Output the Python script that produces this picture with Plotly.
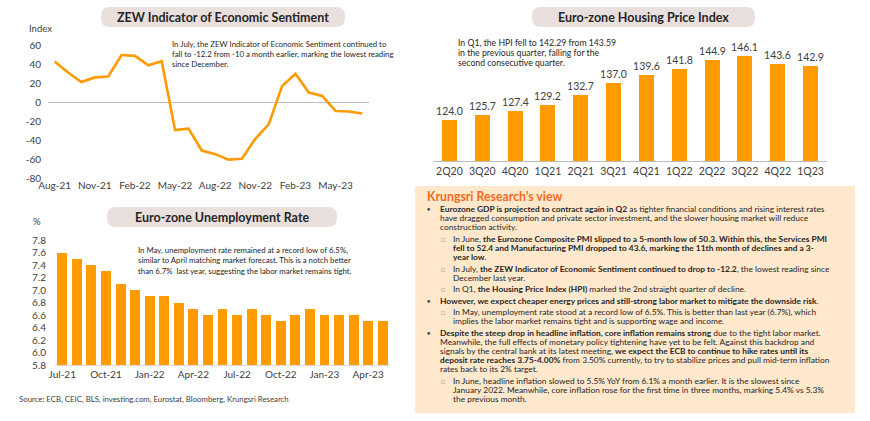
import plotly.graph_objects as go

W, H = 870, 421

# ---------------- data ----------------
zew_months = ["Aug-21", "Sep-21", "Oct-21", "Nov-21", "Dec-21", "Jan-22", "Feb-22", "Mar-22",
              "Apr-22", "May-22", "Jun-22", "Jul-22", "Aug-22", "Sep-22", "Oct-22", "Nov-22",
              "Dec-22", "Jan-23", "Feb-23", "Mar-23", "Apr-23", "May-23", "Jun-23", "Jul-23"]
zew_values = [42.7, 31.1, 21.0, 25.9, 26.8, 49.4, 48.6, 38.7, 43.0, -29.5, -28.0, -51.1,
              -54.9, -60.7, -59.7, -38.7, -23.6, 16.7, 29.7, 10.0, 6.4, -9.4, -10.0, -12.2]
zew_ticks = ["Aug-21", "Nov-21", "Feb-22", "May-22", "Aug-22", "Nov-22", "Feb-23", "May-23"]
zew_yticks = [-80, -60, -40, -20, 0, 20, 40, 60]
zew_yticktext = ["-80", "-60", "-40", "-20", "0", "20", "40", "60"]

hpi_quarters = ["2Q20", "3Q20", "4Q20", "1Q21", "2Q21", "3Q21", "4Q21", "1Q22",
                "2Q22", "3Q22", "4Q22", "1Q23"]
hpi_values = [124.0, 125.7, 127.4, 129.2, 132.7, 137.0, 139.6, 141.8, 144.9, 146.1, 143.6, 142.9]

unemp_months = ["Jul-21", "Aug-21", "Sep-21", "Oct-21", "Nov-21", "Dec-21", "Jan-22", "Feb-22",
                "Mar-22", "Apr-22", "May-22", "Jun-22", "Jul-22", "Aug-22", "Sep-22", "Oct-22",
                "Nov-22", "Dec-22", "Jan-23", "Feb-23", "Mar-23", "Apr-23", "May-23"]
unemp_values = [7.6, 7.5, 7.4, 7.3, 7.1, 7.0, 6.9, 6.9, 6.8, 6.7, 6.6, 6.7, 6.6, 6.7, 6.6,
                6.5, 6.6, 6.7, 6.6, 6.6, 6.6, 6.5, 6.5]
unemp_ticks = ["Jul-21", "Oct-21", "Jan-22", "Apr-22", "Jul-22", "Oct-22", "Jan-23", "Apr-23"]
unemp_yticks = [5.8, 6.0, 6.2, 6.4, 6.6, 6.8, 7.0, 7.2, 7.4, 7.6, 7.8]

zew_title = "ZEW Indicator of Economic Sentiment"
hpi_title = "Euro-zone Housing Price Index"
unemp_title = "Euro-zone Unemployment Rate"

zew_note = ["In July, the ZEW Indicator of Economic Sentiment continued to",
            "fall to -12.2 from -10 a month earlier, marking the lowest reading",
            "since December."]
hpi_note = ["In Q1, the HPI fell to 142.29 from 143.59",
            "in the previous quarter, falling for the",
            "second consecutive quarter."]
unemp_note = ["In May, unemployment rate remained at a record low of 6.5%,",
              "similar to April matching market forecast. This is a notch better",
              "than 6.7%  last year, suggesting the labor market remains tight."]
source = "Source: ECB, CEIC, BLS, investing.com, Eurostat, Bloomberg, Krungsri Research"

view_title = "Krungsri Research\u2019s view"
view_paragraphs = [
    (0, ["<b>Eurozone GDP is projected to contract again in Q2</b> as tighter financial conditions and rising interest rates",
         "have dragged consumption and private sector investment, and the slower housing market will reduce",
         "construction activity."]),
    (1, ["In June, <b>the Eurozone Composite PMI slipped to a 5-month low of 50.3. Within this, the Services PMI</b>",
         "<b>fell to 52.4 and Manufacturing PMI dropped to 43.6, marking the 11th month of declines and a 3-</b>",
         "<b>year low</b>."]),
    (1, ["In July, <b>the ZEW Indicator of Economic Sentiment continued to drop to -12.2</b>, the lowest reading since",
         "December last year."]),
    (1, ["In Q1, <b>the Housing Price Index (HPI)</b> marked the 2nd straight quarter of decline."]),
    (0, ["<b>However, we expect cheaper energy prices and still-strong labor market to mitigate the downside risk</b>."]),
    (1, ["In May, unemployment rate stood at a record low of 6.5%. This is better than last year (6.7%), which",
         "implies the labor market remains tight and is supporting wage and income."]),
    (0, ["<b>Despite the steep drop in headline inflation, core inflation remains strong</b> due to the tight labor market.",
         "Meanwhile, the full effects of monetary policy tightening have yet to be felt. Against this backdrop and",
         "signals by the central bank at its latest meeting, <b>we expect the ECB to continue to hike rates until its</b>",
         "<b>deposit rate reaches 3.75-4.00%</b> from 3.50% currently, to try to stabilize prices and pull mid-term inflation",
         "rates back to its 2% target."]),
    (1, ["In June, headline inflation slowed to 5.5% YoY from 6.1% a month earlier. It is the slowest since",
         "January 2022. Meanwhile, core inflation rose for the first time in three months, marking 5.4% vs 5.3%",
         "the previous month."]),
]

# ---------------- style ----------------
ORANGE = "#FF9A00"
PILL = "#E9DFDD"
BOX = "#FFE8CC"
TXT = "#262626"
TICK = "#404040"
FONT = "Lato, 'Open Sans', sans-serif"


def fx(x):
    return x / W


def fy(y):
    return 1 - y / H


fig = go.Figure()

fig.add_trace(go.Scatter(x=zew_months, y=zew_values, mode="lines",
                         line=dict(color=ORANGE, width=2.6), xaxis="x", yaxis="y",
                         hoverinfo="x+y"))
fig.add_trace(go.Bar(x=hpi_quarters, y=hpi_values, marker=dict(color=ORANGE, line=dict(width=0)),
                     width=0.46, text=[f"{v:.1f}" for v in hpi_values], textposition="outside",
                     constraintext="none",
                     textfont=dict(size=10.5, color=TICK, family=FONT), cliponaxis=False,
                     xaxis="x2", yaxis="y2"))
fig.add_trace(go.Bar(x=unemp_months, y=unemp_values, marker=dict(color=ORANGE, line=dict(width=0)),
                     width=0.68, xaxis="x3", yaxis="y3"))

tickfont = dict(size=10, color=TICK, family=FONT)

fig.update_layout(
    template="none",
    width=W, height=H, margin=dict(l=0, r=0, t=0, b=0, pad=0, autoexpand=False),
    paper_bgcolor="white", plot_bgcolor="rgba(0,0,0,0)",
    showlegend=False, bargap=0,
    font=dict(family=FONT, color=TXT),
    xaxis=dict(domain=[fx(48), fx(369)], type="category", range=[-0.5, 23.5],
               tickvals=zew_ticks, ticktext=zew_ticks, showgrid=False, showline=False,
               zeroline=False, automargin=False,
               ticks="", tickfont=tickfont, anchor="y"),
    yaxis=dict(domain=[fy(178), fy(45)], range=[-80, 60], tickvals=zew_yticks,
               ticktext=zew_yticktext, showgrid=False,
               zeroline=True, zerolinecolor="#BFBFBF", zerolinewidth=1, showline=False,
               automargin=False,
               ticks="", tickfont=tickfont, anchor="x", ticklabelstandoff=6),
    xaxis2=dict(domain=[fx(433), fx(827)], type="category", range=[-0.5, 11.5],
                showgrid=False, showline=True, linecolor="#BFBFBF", linewidth=1,
                zeroline=False, automargin=False,
                ticks="", tickfont=dict(size=10.5, color=TICK, family=FONT), anchor="y2"),
    yaxis2=dict(domain=[fy(161), fy(45)], range=[110, 150], visible=False, anchor="x2",
                automargin=False),
    xaxis3=dict(domain=[fx(55), fx(390)], type="category", range=[-0.5, 22.5],
                tickvals=unemp_ticks, ticktext=unemp_ticks, showgrid=False, showline=True,
                zeroline=False, automargin=False,
                linecolor="#D9D9D9", linewidth=1, ticks="", tickfont=tickfont, anchor="y3"),
    yaxis3=dict(domain=[fy(365), fy(240)], range=[5.8, 7.8], tickvals=unemp_yticks,
                tickformat=".1f", ticksuffix="%", showgrid=False, zeroline=False, showline=False,
                automargin=False,
                ticks="", tickfont=tickfont, anchor="x3", ticklabelstandoff=8),
)

shapes = []


def pill(x0, y0, x1, y1, r, color):
    path = (f"M {fx(x0 + r)},{fy(y0)} L {fx(x1 - r)},{fy(y0)} "
            f"Q {fx(x1)},{fy(y0)} {fx(x1)},{fy(y0 + r)} L {fx(x1)},{fy(y1 - r)} "
            f"Q {fx(x1)},{fy(y1)} {fx(x1 - r)},{fy(y1)} L {fx(x0 + r)},{fy(y1)} "
            f"Q {fx(x0)},{fy(y1)} {fx(x0)},{fy(y1 - r)} L {fx(x0)},{fy(y0 + r)} "
            f"Q {fx(x0)},{fy(y0)} {fx(x0 + r)},{fy(y0)} Z")
    return dict(type="path", xref="paper", yref="paper", path=path, fillcolor=color,
                line=dict(width=0), layer="below")


shapes.append(pill(101, 7, 345, 27, 9, PILL))
shapes.append(pill(532, 7, 755, 27, 9, PILL))
shapes.append(pill(107, 207, 337, 227, 9, PILL))
shapes.append(dict(type="rect", xref="paper", yref="paper", x0=fx(415), x1=fx(855),
                   y0=fy(413), y1=fy(186), fillcolor=BOX, line=dict(width=0), layer="below"))

ann = []


def text(x, y, s, size=9.5, color=TXT, anchor="left", bold=False):
    ann.append(dict(x=fx(x), y=fy(y), xref="paper", yref="paper", text=(f"<b>{s}</b>" if bold else s),
                    showarrow=False, xanchor=anchor, yanchor="middle",
                    font=dict(size=size, color=color, family=FONT)))


text(223, 17, zew_title, size=12.5, anchor="center", bold=True)
text(643.5, 17, hpi_title, size=12.5, anchor="center", bold=True)
text(222, 217, unemp_title, size=12.5, anchor="center", bold=True)

text(40, 28, "Index", size=9.5, color=TICK, anchor="center")
text(37, 221, "%", size=9.5, color=TICK, anchor="center")

for i, line in enumerate(zew_note):
    text(170, 44.3 + i * 10, line, size=7.8)
for i, line in enumerate(hpi_note):
    text(456, 42.3 + i * 10, line, size=8.7)
for i, line in enumerate(unemp_note):
    text(136, 250 + i * 10.3, line, size=7.8)

text(17, 399, source, size=7.8, color="#404040")

# Krungsri view box
text(425, 196.5, view_title, size=12.3, color="#F26B1F", bold=True)
y = 209.3
for level, lines in view_paragraphs:
    if level == 0:
        text(428, y, "\u25CF", size=5.5, color="#404040", anchor="center")
        x0 = 437.5
    else:
        text(443, y, "\u25A1", size=7, color="#A6A6A6", anchor="center")
        x0 = 451
    for line in lines:
        text(x0, y, line, size=8.4)
        y += 9.0
    y += 2.6

fig.update_layout(shapes=shapes, annotations=ann)
fig.write_html("out.html", config={"displayModeBar": False},
               post_script="document.body.style.margin='0px';document.body.style.padding='0px';")
